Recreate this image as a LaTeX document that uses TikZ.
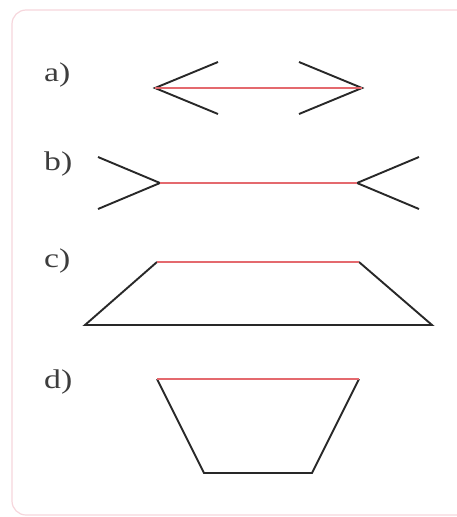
\documentclass[tikz,border=0pt]{standalone}
\usepackage{fontspec}
\setmainfont{Liberation Serif}
\definecolor{redline}{RGB}{228,105,110}
\definecolor{darkline}{RGB}{40,40,40}
\definecolor{framepink}{RGB}{246,214,220}
\newcommand{\wlbl}[1]{\scalebox{1.25}[1]{#1}}
\begin{document}
\begin{tikzpicture}[x=1pt,y=-1pt,
  blk/.style={draw=darkline,line width=1.9pt,line join=miter},
  red/.style={draw=redline,line width=1.5pt},
  lbl/.style={anchor=base west,inner sep=0pt,font=\fontsize{27}{30}\selectfont,text=darkline!90}]
\useasboundingbox (0,0) rectangle (457,517);
\clip (0,0) rectangle (457,517);
\draw[framepink,line width=1.2pt,rounded corners=14pt] (12,10) rectangle (480,515);
% labels
\node[lbl] (la) at (44,81) {\wlbl{a)}};
\node[lbl] (lb) at (44,170) {\wlbl{b)}};
\node[lbl] (lc) at (44,267) {\wlbl{c)}};
\node[lbl] (ld) at (44,388) {\wlbl{d)}};
% a)
\coordinate (aL) at (155,88);
\coordinate (aR) at (362,88);
\coordinate (aLu) at (218,62);
\coordinate (aLd) at (218,114);
\coordinate (aRu) at (299,62);
\coordinate (aRd) at (299,114);
\draw[blk] (aLu) -- (aL) -- (aLd);
\draw[blk] (aRu) -- (aR) -- (aRd);
\draw[red] (aL) -- (aR);
% b)
\coordinate (bL) at (160,183);
\coordinate (bR) at (357,183);
\coordinate (bLu) at (98,157);
\coordinate (bLd) at (98,209);
\coordinate (bRu) at (419,157);
\coordinate (bRd) at (419,209);
\draw[blk] (bLu) -- (bL) -- (bLd);
\draw[blk] (bRu) -- (bR) -- (bRd);
\draw[red] (bL) -- (bR);
% c)
\coordinate (cTL) at (157,262);
\coordinate (cTR) at (359,262);
\coordinate (cBR) at (432,325);
\coordinate (cBL) at (85,325);
\draw[blk] (cTR) -- (cBR) -- (cBL) -- (cTL);
\draw[red] (cTL) -- (cTR);
% d)
\coordinate (dTL) at (157,379);
\coordinate (dTR) at (359,379);
\coordinate (dBR) at (312,473);
\coordinate (dBL) at (204,473);
\draw[blk] (dTR) -- (dBR) -- (dBL) -- (dTL);
\draw[red] (dTL) -- (dTR);
\end{tikzpicture}
\end{document}
